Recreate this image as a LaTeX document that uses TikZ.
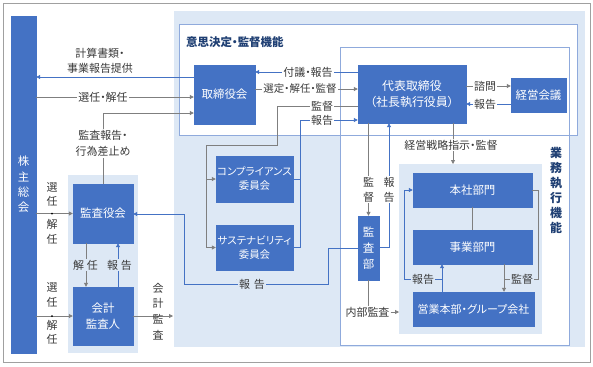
\documentclass[tikz,border=0pt]{standalone}
\usepackage{fontspec}
\setmainfont{Noto Sans CJK JP}[RawFeature=+palt]
\usetikzlibrary{arrows.meta}
\definecolor{boxblue}{HTML}{4472C4}
\definecolor{lightbg}{HTML}{DDE8F5}
\definecolor{secborder}{HTML}{8FAADC}
\definecolor{lnGray}{HTML}{7F7F7F}
\definecolor{txt}{HTML}{3A3A3A}
\definecolor{navy}{HTML}{1F3F73}
\definecolor{frame}{HTML}{A0A0A0}
\tikzset{
 box/.style={fill=boxblue, draw=boxblue, text=white, inner sep=0pt, align=center, font=\fontsize{11.5}{15}\selectfont},
 lbl/.style={text=txt, inner sep=1bp, align=center, font=\fontsize{11}{14}\selectfont},
 wl/.style={lbl, fill=white},
 bl/.style={lbl, fill=lightbg},
 gline/.style={draw=lnGray, line width=0.8bp},
 garr/.style={gline, -{Triangle[length=4bp,width=4bp]}},
 bline/.style={draw=boxblue, line width=0.9bp},
 barr/.style={bline, -{Triangle[length=4bp,width=4bp]}},
}
\begin{document}
\begin{tikzpicture}[x=1bp,y=-1bp]
\useasboundingbox (0,0) rectangle (593,366);
\draw[draw=frame, line width=1bp] (3,3) rectangle (590,362);
% backgrounds
\fill[lightbg] (174,11) rectangle (585,347);
\fill[white] (179,24) rectangle (577,135);
\fill[white] (340,47) rectangle (569,345);
\draw[secborder, line width=0.8bp] (179,24) rectangle (577,135);
\draw[secborder, line width=0.8bp] (340,47) rectangle (569,345);
\fill[lightbg] (399,164) rectangle (542,334);
\fill[lightbg] (68,175) rectangle (138,353);
% titles
\node[anchor=west, text=navy, inner sep=0pt, font=\fontsize{11.5}{14}\selectfont\bfseries] (t1) at (186,42) {意思決定・監督機能};
\node[text=navy, inner sep=0pt, align=center, font=\fontsize{12}{15}\selectfont\bfseries] (t2) at (556,190.5) {業\\務\\執\\行\\機\\能};
% boxes
\node[box, minimum width=25bp, minimum height=337bp, font=\fontsize{11.5}{15.3}\selectfont] (kabu) at (23.5,184.5) {株\\主\\総\\会};
\node[box, minimum width=61bp, minimum height=59bp] (board) at (224.5,94.5) {取締役会};
\node[box, minimum width=108bp, minimum height=58bp, font=\fontsize{12}{15.5}\selectfont] (ceo) at (412,94) {代表取締役\\（社長執行役員）};
\node[box, minimum width=55bp, minimum height=34bp] (mgmt) at (538.5,95) {経営会議};
\node[box, minimum width=77bp, minimum height=46bp, font=\fontsize{10.5}{14}\selectfont] (comp) at (254.5,179) {コンプライアンス\\委員会};
\node[box, minimum width=77bp, minimum height=45bp, font=\fontsize{10.5}{14}\selectfont] (sust) at (254.5,247.5) {サステナビリティ\\委員会};
\node[box, minimum width=21bp, minimum height=64bp, font=\fontsize{11.5}{16}\selectfont] (audit) at (368.5,248) {監\\査\\部};
\node[box, minimum width=119bp, minimum height=34bp] (hq) at (472.5,190) {本社部門};
\node[box, minimum width=119bp, minimum height=34bp] (biz) at (472.5,247) {事業部門};
\node[box, minimum width=121bp, minimum height=34bp, font=\fontsize{11}{14}\selectfont] (sales) at (473.5,309) {営業本部・グループ会社};
\node[box, minimum width=60bp, minimum height=59bp] (kansa) at (103,213.5) {監査役会};
\node[box, minimum width=60bp, minimum height=58bp, font=\fontsize{11.5}{16}\selectfont] (acct) at (103,316) {会計\\監査人};
% connectors
\draw[barr] (board.west |- 0,77) -- (kabu.east |- 0,77);
\draw[garr] (kabu.east |- 0,97) -- (board.west |- 0,97);
\draw[garr] (kansa.north) -- (kansa.north |- 0,113) -- (board.west |- 0,113);
\draw[barr] (ceo.west |- 0,72) -- (board.east |- 0,72);
\draw[garr] (board.east |- 0,89) -- (ceo.west |- 0,89);
\draw[gline] (ceo.west |- 0,106) -- (277,106) -- (277,145) -- (206,145) -- (206,179);
\draw[garr] (206,179) -- (comp.west);
\draw[garr] (206,179) |- (sust.west);
\draw[bline] (comp.east) -- (comp.east -| 300,0);
\draw[barr] (sust.east) -| (300,120) -- (ceo.west |- 0,120);
\draw[garr] (ceo.east |- 0,86) -- (mgmt.west |- 0,86);
\draw[barr] (mgmt.west |- 0,104) -- (ceo.east |- 0,104);
\draw[garr] (ceo.south -| 453,0) -- (453,164);
\draw[garr] (ceo.south -| 368.5,0) -- (audit.north);
\draw[barr] (audit.east |- 0,247) -- (389,247) -- (ceo.south -| 389,0);
\draw[barr] (audit.west) -- (328,248) -- (328,284) -- (184,284) -- (184,214) -- (kansa.east |- 0,214);
\node[lbl] (naibu) at (367.5,312) {内部監査};
\draw[gline] (audit.south) -- (naibu.north -| audit.south);
\draw[garr] (naibu.east) -- (399,312);
\draw[gline] (hq.south) -- (biz.north);
\draw[barr] (sales.north -| 442,0) -- (biz.south -| 442,0);
\draw[barr] (442,279) -- (404,279) -- (404,190) -- (hq.west);
\draw[gline] (hq.east) -- (538,190) -- (538,279) -- (504,279);
\draw[garr] (biz.south -| 504,0) -- (sales.north -| 504,0);
\draw[garr] (acct.east) -- (173,316);
\draw[garr] (kabu.east |- 0,213.5) -- (kansa.west);
\draw[garr] (kabu.east |- 0,316) -- (acct.west);
\fill[black] (52,213.5) circle (1bp);
\fill[black] (52,316) circle (1bp);
\draw[garr] (kansa.south -| 86,0) -- (acct.north -| 86,0);
\draw[barr] (acct.north -| 118,0) -- (kansa.south -| 118,0);
% labels
\node[lbl, font=\fontsize{11}{15}\selectfont] (l1) at (100,60.5) {計算書類・\\事業報告提供};
\node[wl] (l2) at (103,97) {選任・解任};
\node[wl, font=\fontsize{11}{16.5}\selectfont] (l3) at (103,143.5) {監査報告・\\行為差止め};
\node[wl] (l4) at (308,72) {付議・報告};
\node[wl, font=\fontsize{10.5}{14}\selectfont] (l5) at (300,89) {選定・解任・監督};
\node[wl] (l6) at (322,106) {監督};
\node[wl] (l7) at (322,120) {報告};
\node[wl] (l8) at (485,86) {諮問};
\node[wl] (l9) at (485,104) {報告};
\node[wl] (l10) at (451,145) {経営戦略指示・監督};
\node[wl, font=\fontsize{11}{15}\selectfont] (l11) at (368.5,189.5) {監\\督};
\node[wl, font=\fontsize{11}{15}\selectfont] (l12) at (389,189.5) {報\\告};
\node[bl] (l13) at (252,284) {報\hspace{4bp}告};
\node[bl] (l15) at (423,279) {報告};
\node[bl] (l16) at (522,279) {監督};
\node[lbl, font=\fontsize{11}{15.7}\selectfont] (l17) at (158,311.5) {会\\計\\監\\査};
\node[lbl, font=\fontsize{11}{14.5}\selectfont] (l18) at (52,194.5) {選\\任};
\node[lbl, font=\fontsize{11}{14.5}\selectfont] (l19) at (52,232) {解\\任};
\node[lbl, font=\fontsize{11}{14.5}\selectfont] (l20) at (52,295) {選\\任};
\node[lbl, font=\fontsize{11}{14.5}\selectfont] (l21) at (52,332.5) {解\\任};
\node[bl] (l22) at (85.5,265) {解\hspace{3bp}任};
\node[bl] (l23) at (119.5,265) {報\hspace{3bp}告};
\end{tikzpicture}
\end{document}
